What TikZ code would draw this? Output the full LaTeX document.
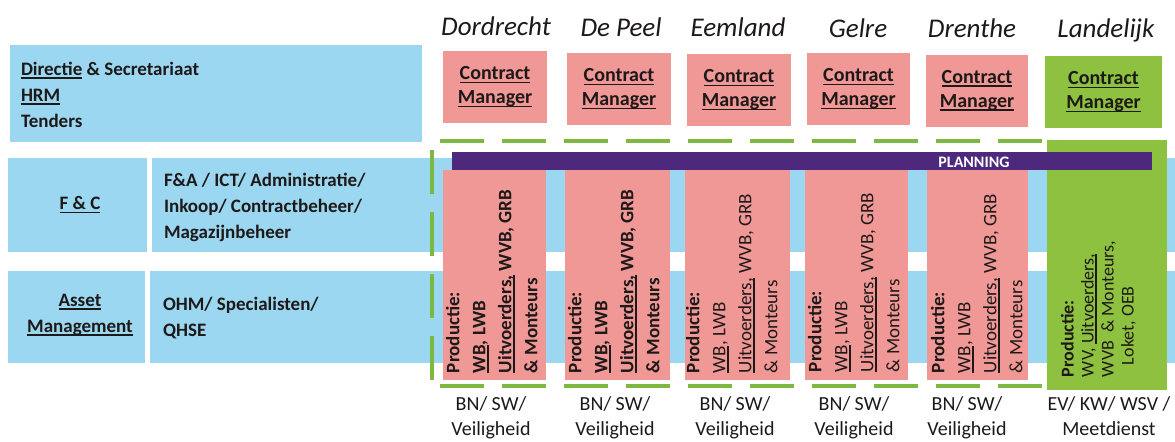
\documentclass[tikz,border=0pt]{standalone}
\usepackage{fontspec}
\setmainfont{Carlito}
\definecolor{blu}{RGB}{155,215,240}
\definecolor{pnk}{RGB}{240,152,150}
\definecolor{grn}{RGB}{141,193,63}
\definecolor{prp}{RGB}{78,40,125}
\definecolor{dgrn}{RGB}{125,185,65}
\definecolor{txt}{RGB}{30,25,25}
\newcommand\ulin[1]{\setbox0=\hbox{#1}\rlap{\rule[-1.6pt]{\wd0}{0.7pt}}\box0\relax}
\begin{document}
\begin{tikzpicture}[x=0.5pt,y=-0.5pt,
  every node/.style={inner sep=0pt, outer sep=0pt, text=txt},
  band/.style={fill=blu, draw=none},
  lefttxt/.style={align=left, font=\bfseries\fontsize{9.5}{13}\selectfont},
  midtxt/.style={align=center, font=\bfseries\fontsize{9.5}{13}\selectfont},
  cmbox/.style={fill=pnk, minimum height=36pt, align=center, font=\bfseries\fontsize{10}{12}\selectfont},
  prodcol/.style={fill=pnk, minimum height=105pt},
  vtxt/.style={rotate=90, align=left, font=\fontsize{9.5}{13}\selectfont},
  title/.style={anchor=base, font=\itshape\fontsize{13.5}{15}\selectfont},
  foot/.style={align=center, font=\fontsize{10}{12.5}\selectfont},
  gdash/.style={draw=dgrn, line width=2pt, dash pattern=on 22pt off 9pt}
]
\useasboundingbox (0,0) rectangle (1175,441);

% left bands
\node[band, minimum width=206pt, minimum height=48.5pt] (top) at (216,93.5) {};
\node[lefttxt, anchor=west] (toptxt) at (21,95) {\ulin{Directie} \& Secretariaat\\\ulin{HRM}\\Tenders};

\node[band, minimum width=69.5pt, minimum height=47pt] (fcL) at (77.5,205) {};
\node[band, minimum width=511.5pt, minimum height=47pt] (fcR) at (663.5,205) {};
\node[midtxt] (fctxt) at (80,205) {\ulin{F \& C}};
\node[lefttxt, anchor=west] (fcdesc) at (164,207) {F\&A / ICT/ Administratie/\\Inkoop/ Contractbeheer/\\Magazijnbeheer};

\node[band, minimum width=68.5pt, minimum height=46pt] (amL) at (76.5,317) {};
\node[band, minimum width=512.5pt, minimum height=46pt] (amR) at (662.5,317) {};
\node[midtxt] (amtxt) at (80,315) {\ulin{Asset}\\\ulin{Management}};
\node[lefttxt, anchor=west] (amdesc) at (163,318) {OHM/ Specialisten/\\QHSE};

% dashed green frame
\draw[gdash] (440,141) -- (1060,141);
\draw[gdash] (432,150) -- (432,386);
\draw[gdash] (440,386) -- (1060,386);

% titles
\node[title] (t1) at (496,35) {Dordrecht};
\node[title] (t2) at (621,36) {De Peel};
\node[title] (t3) at (738,36) {Eemland};
\node[title] (t4) at (858,37) {Gelre};
\node[title] (t5) at (972,37) {Drenthe};
\node[title] (t6) at (1106,37) {Landelijk};

% contract managers
\node[cmbox, minimum width=52pt] (cm1) at (495,87) {\ulin{Contract}\\\ulin{Manager}};
\node[cmbox, minimum width=52pt] (cm2) at (619,89) {\ulin{Contract}\\\ulin{Manager}};
\node[cmbox, minimum width=52pt] (cm3) at (739,90) {\ulin{Contract}\\\ulin{Manager}};
\node[cmbox, minimum width=51.5pt] (cm4) at (858.5,89) {\ulin{Contract}\\\ulin{Manager}};
\node[cmbox, minimum width=51pt] (cm5) at (977,90.5) {\ulin{Contract}\\\ulin{Manager}};
\node[cmbox, fill=grn, minimum width=58.5pt] (cm6) at (1103.5,92) {\ulin{Contract}\\\ulin{Manager}};

% production columns
\node[prodcol, minimum width=51.5pt] (c1) at (494.5,275) {};
\node[prodcol, minimum width=52.5pt] (c2) at (617.5,275) {};
\node[prodcol, minimum width=52.5pt] (c3) at (737.5,275) {};
\node[prodcol, minimum width=51.5pt] (c4) at (856.5,275) {};
\node[prodcol, minimum width=50.5pt] (c5) at (977.5,275) {};
\node[fill=grn, minimum width=60pt, minimum height=125pt] (c6) at (1107,265) {};

% planning bar
\node[fill=prp, minimum width=350pt, minimum height=9pt] (plan) at (802,161) {};
\node[text=white, font=\bfseries\fontsize{8}{9}\selectfont] (plantxt) at (974,162) {PLANNING};

% vertical texts
\node[vtxt, anchor=north west, font=\bfseries\fontsize{9.5}{13}\selectfont] (v1) at (446,373) {Productie:\\\ulin{WB}, LWB\\\ulin{Uitvoerders,} WVB, GRB\\\& Monteurs};
\node[vtxt, anchor=north west, font=\bfseries\fontsize{9.5}{13}\selectfont] (v2) at (568,373) {Productie:\\\ulin{WB}, LWB\\\ulin{Uitvoerders,} WVB, GRB\\\& Monteurs};
\node[vtxt, anchor=north west] (v3) at (686,373) {{\bfseries Productie:}\\\ulin{WB}, LWB\\\ulin{Uitvoerders,} WVB, GRB\\\& Monteurs};
\node[vtxt, anchor=north west] (v4) at (808,372) {{\bfseries Productie:}\\\ulin{WB}, LWB\\\ulin{Uitvoerders,} WVB, GRB\\\& Monteurs};
\node[vtxt, anchor=north west] (v5) at (931,373) {{\bfseries Productie:}\\\ulin{WB}, LWB\\\ulin{Uitvoerders,} WVB, GRB\\\& Monteurs};
\node[vtxt, anchor=north west, font=\fontsize{9}{10}\selectfont] (v6) at (1061,377) {{\bfseries Productie:}\\WV, \ulin{Uitvoerders,}\\WVB \ \& Monteurs,\\\hspace*{6pt}Loket, OEB};

% footers
\node[foot] (f1) at (491,418) {BN/ SW/\\Veiligheid};
\node[foot] (f2) at (615,418) {BN/ SW/\\Veiligheid};
\node[foot] (f3) at (735,418) {BN/ SW/\\Veiligheid};
\node[foot] (f4) at (854,418) {BN/ SW/\\Veiligheid};
\node[foot] (f5) at (967,418) {BN/ SW/\\Veiligheid};
\node[foot] (f6) at (1109,416) {EV/ KW/ WSV /\\Meetdienst};
\end{tikzpicture}
\end{document}
